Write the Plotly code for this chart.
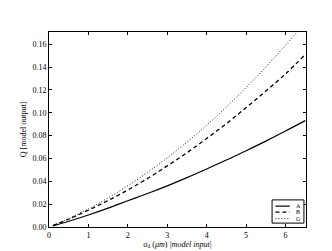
import plotly.graph_objects as go

x_vals = [0.1, 0.5, 1, 1.5, 2, 2.5, 3, 3.5, 4, 4.5, 5, 5.5, 6, 6.5]
series_A = [0.001, 0.005, 0.0105, 0.0165, 0.0230, 0.0293, 0.0360, 0.0432, 0.0508, 0.0586, 0.0668, 0.0752, 0.0840, 0.0931]
series_B = [0.0013, 0.0069, 0.0147, 0.0232, 0.0324, 0.0425, 0.0535, 0.0650, 0.0775, 0.0905, 0.1045, 0.119, 0.134, 0.151]
series_G = [0.0014, 0.0074, 0.0159, 0.0255, 0.0361, 0.0478, 0.0605, 0.0743, 0.0891, 0.1050, 0.1220, 0.1400, 0.1591, 0.179]
series_names = ["A", "B", "G"]
x_ticks = [0, 1, 2, 3, 4, 5, 6]
y_ticks = [0.00, 0.02, 0.04, 0.06, 0.08, 0.10, 0.12, 0.14, 0.16]

font = "Liberation Serif"
styles = [dict(color="black", width=1.2, dash="solid"),
          dict(color="black", width=1.3, dash="4px,3px"),
          dict(color="black", width=0.9, dash="1px,2px")]

fig = go.Figure()
for name, ys, st in zip(series_names, [series_A, series_B, series_G], styles):
    fig.add_trace(go.Scatter(x=x_vals, y=ys, mode="lines", name=name,
                             line=st, line_shape="spline", showlegend=False))

# compact legend box (matplotlib-like) in paper coordinates
box = dict(x0=0.868, x1=0.992, y0=0.02, y1=0.139)
fig.add_shape(type="rect", xref="paper", yref="paper", **box,
              line=dict(color="black", width=1), fillcolor="white", layer="above")
row_y = [0.107, 0.076, 0.043]
for name, st, yy in zip(series_names, styles, row_y):
    fig.add_shape(type="line", xref="paper", yref="paper", x0=0.881, x1=0.937, y0=yy, y1=yy,
                  line=st, layer="above")
    fig.add_annotation(xref="paper", yref="paper", x=0.952, y=yy, text=name, showarrow=False,
                       xanchor="left", yanchor="middle",
                       font=dict(family=font, size=6, color="black"))

axis_common = dict(showgrid=False, zeroline=False, showline=True, linecolor="black",
                   linewidth=1, mirror="ticks", ticks="inside", ticklen=3, tickwidth=0.8,
                   tickcolor="black", tickfont=dict(family=font, size=8, color="black"))
fig.update_xaxes(range=[0, 6.52], tickvals=x_ticks, ticktext=[str(v) for v in x_ticks],
                 title=dict(text="σ<sub>d</sub> (<i>μm</i>) <i>|model input|</i>",
                            font=dict(family=font, size=8, color="black"), standoff=2),
                 **axis_common)
fig.update_yaxes(range=[0, 0.1707], tickvals=y_ticks, ticktext=[f"{v:.2f}" for v in y_ticks],
                 title=dict(text="Q [model output]", font=dict(family=font, size=8, color="black"),
                            standoff=4),
                 **axis_common)
fig.update_layout(width=332, height=251, margin=dict(l=41, r=34, t=24, b=25),
                  paper_bgcolor="white", plot_bgcolor="white",
                  font=dict(family=font, size=8, color="black"),
                  showlegend=False)
fig.write_html("out.html")
